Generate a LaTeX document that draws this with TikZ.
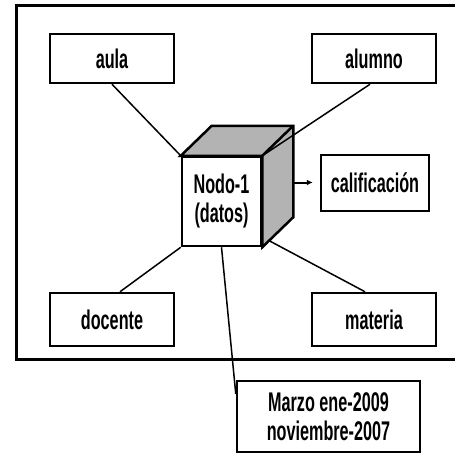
\documentclass[tikz,border=0pt]{standalone}
\usepackage{graphicx}
\usepackage{fontspec}
\setmainfont{Liberation Sans}
\usetikzlibrary{calc,arrows.meta}
\definecolor{facegrey}{HTML}{B3B3B3}
% narrow, tall lettering used in every box
\newcommand\narrowtext[1]{\scalebox{0.6}[1]{#1}}
\begin{document}
\begin{tikzpicture}[x=1pt,y=-1pt,
  dimbox/.style={draw,line width=2.5pt,fill=white,inner sep=0pt,
    font=\fontsize{27}{29}\selectfont\bfseries,align=center},
  link/.style={line width=1.5pt},
  frameline/.style={line width=3pt}]
\useasboundingbox (0,0) rectangle (455,453);

% outer frame, open to the right
\draw[frameline] (455,5) -- (16,5) -- (16,359) -- (455,359);

% dimension boxes
\node[dimbox,minimum width=124pt,minimum height=49pt] (tl) at (112,58.5) {\narrowtext{aula}};
\node[dimbox,minimum width=124pt,minimum height=49pt] (tr) at (374,58.5) {\narrowtext{alumno}};
\node[dimbox,minimum width=124pt,minimum height=53pt] (bl) at (112,319.5) {\narrowtext{docente}};
\node[dimbox,minimum width=124pt,minimum height=53pt] (br) at (374,319.5) {\narrowtext{materia}};
\node[dimbox,minimum width=108pt,minimum height=56pt] (cal) at (375,183) {\narrowtext{calificación}};
\node[dimbox,minimum width=183pt,minimum height=71pt] (bot) at (328.5,416.5)
  {\narrowtext{Marzo ene-2009}\\\narrowtext{noviembre-2007}};

% cube: front face as a node, top and side faces drawn behind it
\node[dimbox,minimum width=79pt,minimum height=89pt] (cube) at (221.5,201.5)
  {\narrowtext{Nodo-1}\\\narrowtext{(datos)}};
\coordinate (bnw) at ($(cube.north west)+(31,-30)$);
\coordinate (bne) at ($(cube.north east)+(31,-30)$);
\coordinate (bse) at ($(cube.south east)+(31,-30)$);
\draw[line width=2.5pt,fill=facegrey,line join=miter]
  (cube.north west) -- (bnw) -- (bne) -- (bse) -- (cube.south east)
  -- (cube.north east) -- cycle;
\draw[line width=2.5pt] (cube.north east) -- (bne);
\node[dimbox,minimum width=79pt,minimum height=89pt] at (cube)
  {\narrowtext{Nodo-1}\\\narrowtext{(datos)}};

% connectors
\coordinate (brend) at ($(cube.south east)!0.22!(bse)$);
\coordinate (arrowstart) at ($(cube.east)+(31,-19)$);
\coordinate (botend) at ($(bot.north west)+(0,14)$);
\draw[link] (tl.south) -- (cube.north west);
\draw[link] ([xshift=-4pt]tr.south) -- (cube.north east);
\draw[link] ([xshift=8pt]bl.north) -- (cube.south west);
\draw[link] ([xshift=-9pt]br.north) -- (brend);
\draw[link] (cube.south) -- (botend);
\draw[line width=2pt,-{Latex[length=6pt,width=6pt]},shorten >=7pt]
  (arrowstart) -- (arrowstart -| cal.west);
\end{tikzpicture}
\end{document}
